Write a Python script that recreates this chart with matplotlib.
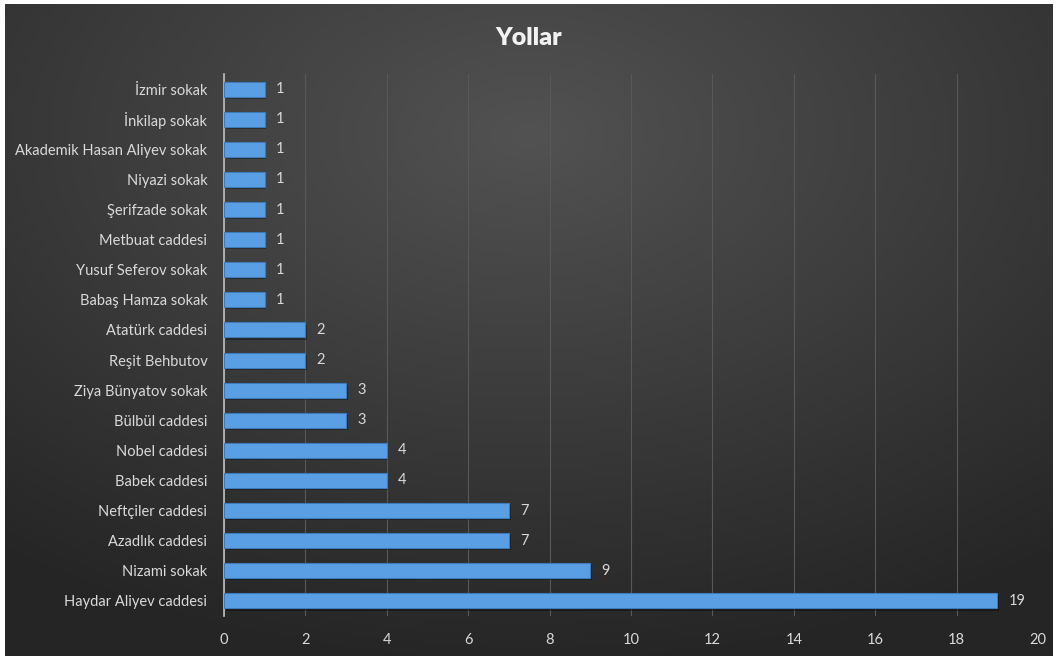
import numpy as np
import matplotlib
matplotlib.use("Agg")
import matplotlib.pyplot as plt

categories = ["Haydar Aliyev caddesi", "Nizami sokak", "Azadlık caddesi", "Neftçiler caddesi",
              "Babek caddesi", "Nobel caddesi", "Bülbül caddesi", "Ziya Bünyatov sokak",
              "Reşit Behbutov", "Atatürk caddesi", "Babaş Hamza sokak", "Yusuf Seferov sokak",
              "Metbuat caddesi", "Şerifzade sokak", "Niyazi sokak", "Akademik Hasan Aliyev sokak",
              "İnkilap sokak", "İzmir sokak"]
values = [19, 9, 7, 7, 4, 4, 3, 3, 2, 2, 1, 1, 1, 1, 1, 1, 1, 1]
xticks = [0, 2, 4, 6, 8, 10, 12, 14, 16, 18, 20]
title = "Yollar"

plt.rcParams['font.family'] = ['Lato', 'DejaVu Sans']

W, H = 1057, 660
fig = plt.figure(figsize=(W / 100, H / 100), dpi=100, facecolor='white')

# background radial gradient
bg = fig.add_axes([5 / W, 4 / H, 1048 / W, 652 / H])
yy, xx = np.mgrid[-1:1:300j, -1:1:500j]
r = np.sqrt((xx * 0.85) ** 2 + ((yy + 0.6) * 0.85) ** 2)
r = np.clip(r / 1.4, 0, 1)
c0 = np.array([0x52, 0x52, 0x52]) / 255
c1 = np.array([0x25, 0x25, 0x25]) / 255
img = c0[None, None, :] * (1 - r[..., None]) + c1[None, None, :] * r[..., None]
bg.imshow(img, aspect='auto', extent=[0, 1, 0, 1], origin='upper')
bg.set_axis_off()

ax = fig.add_axes([224 / W, (H - 616) / H, (1038 - 224) / W, (616 - 74) / H])
ax.patch.set_alpha(0)
y = np.arange(len(categories))
# shadow
ax.barh(y - 0.07, values, height=0.5, left=0.04, color='black', alpha=0.35, zorder=2)
ax.barh(y, values, height=0.5, color='#5a9fe3', edgecolor='#3d7bbb', linewidth=0.8, zorder=3)
for yi, v in zip(y, values):
    ax.text(v + 0.28, yi, str(v), va='center', ha='left', color='#d9d9d9', fontsize=10.5)

ax.set_xlim(0, 20)
ax.set_ylim(-0.5, len(categories) - 0.5)
ax.set_xticks(xticks)
ax.set_xticklabels([str(t) for t in xticks])
ax.set_yticks(y)
ax.set_yticklabels(categories)
ax.tick_params(axis='both', length=0, colors='#d9d9d9', labelsize=10.5)
ax.tick_params(axis='x', pad=12)
ax.tick_params(axis='y', pad=12)
ax.grid(axis='x', color='#585858', linewidth=0.8, zorder=0)
ax.set_axisbelow(True)
for s in ['top', 'right', 'bottom']:
    ax.spines[s].set_visible(False)
ax.spines['left'].set_color('#bfbfbf')
ax.spines['left'].set_linewidth(1.2)

fig.text(529 / W, 1 - 38 / H, title, ha='center', va='center', color='#f2f2f2',
         fontsize=18, fontweight='heavy')

fig.savefig('out.png', dpi=100, facecolor='white')
